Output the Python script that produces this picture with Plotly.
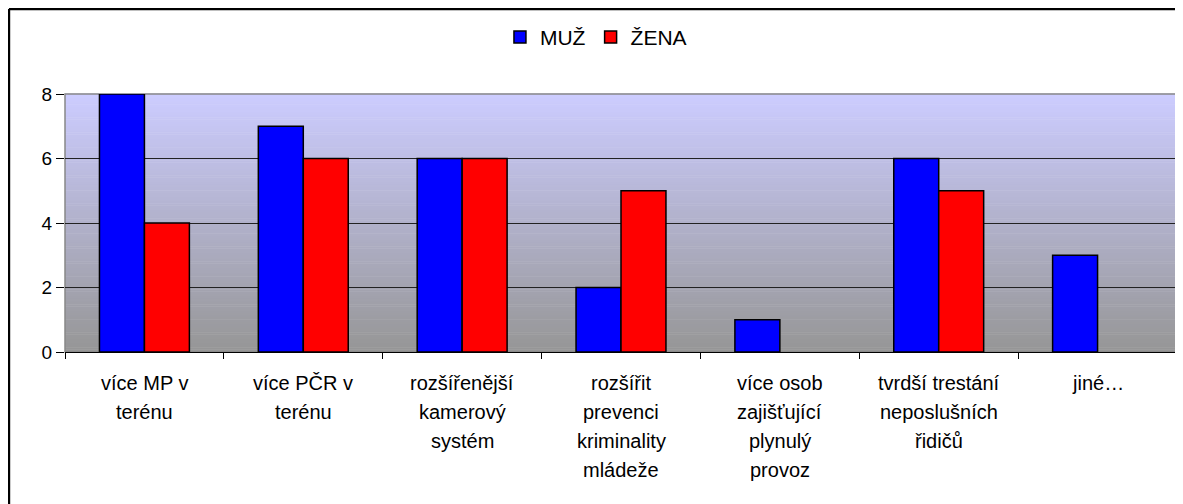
import plotly.graph_objects as go

categories = ["více MP v terénu", "více PČR v terénu", "rozšířenější kamerový systém",
              "rozšířit prevenci kriminality mládeže", "více osob zajišťující plynulý provoz",
              "tvrdší trestání neposlušních řidičů", "jiné…"]
label_lines = [["více MP v", "terénu"],
               ["více PČR v", "terénu"],
               ["rozšířenější", "kamerový", "systém"],
               ["rozšířit", "prevenci", "kriminality", "mládeže"],
               ["více osob", "zajišťující", "plynulý", "provoz"],
               ["tvrdší trestání", "neposlušních", "řidičů"],
               ["jiné…"]]
muz = [8, 7, 6, 2, 1, 6, 3]
zena = [4, 6, 6, 5, None, 5, None]
y_ticks = [0, 2, 4, 6, 8]

FONT = "Liberation Sans, Arial, sans-serif"

fig = go.Figure()
fig.add_trace(go.Bar(name="MUŽ", x=categories, y=muz, marker=dict(color="#0000FF", line=dict(color="black", width=1.5))))
fig.add_trace(go.Bar(name="ŽENA", x=categories, y=zena, marker=dict(color="#FF0000", line=dict(color="black", width=1.5))))

# gradient background bands (below gridlines)
shapes = []
n = 120
top = (204, 204, 255)
bot = (150, 150, 150)
for i in range(n):
    t = i / (n - 1)
    c = tuple(round(bot[k] + (top[k] - bot[k]) * t) for k in range(3))
    shapes.append(dict(type="rect", xref="x domain", yref="y domain", x0=0, x1=1,
                       y0=i / n, y1=(i + 1) / n + 0.002, fillcolor="rgb(%d,%d,%d)" % c,
                       line=dict(width=0), layer="below"))
# plot area border
shapes.append(dict(type="rect", xref="x domain", yref="y domain", x0=0, x1=1, y0=0, y1=1,
                   line=dict(color="#888888", width=1.5), fillcolor="rgba(0,0,0,0)", layer="below"))
# outer chart border: only left and top edges are visible on the page
shapes.append(dict(type="line", xref="paper", yref="paper", x0=-0.0504, x1=-0.0504, y0=-0.7, y1=1.329,
                   line=dict(color="black", width=2.5), layer="above"))
shapes.append(dict(type="line", xref="paper", yref="paper", x0=-0.0504, x1=1.04, y0=1.329, y1=1.329,
                   line=dict(color="black", width=2.5), layer="above"))

annotations = []
for cat, lines in zip(categories, label_lines):
    for j, ln in enumerate(lines):
        annotations.append(dict(x=cat, y=0, xref="x", yref="y", text=ln, showarrow=False,
                                yanchor="middle", yshift=-(31 + 29 * j),
                                font=dict(family=FONT, size=20, color="black")))

fig.update_layout(
    width=1183, height=504,
    margin=dict(l=57, r=14, t=86, b=160),
    paper_bgcolor="white", plot_bgcolor="rgba(0,0,0,0)",
    barmode="group", bargap=0.434, bargroupgap=0,
    shapes=shapes, annotations=annotations,
    font=dict(family=FONT, size=19, color="black"),
    legend=dict(orientation="h", xref="container", x=0.497, xanchor="center",
                yref="container", y=0.942, yanchor="middle",
                font=dict(family=FONT, size=21, color="black"),
                itemwidth=30, tracegroupgap=0, bgcolor="rgba(0,0,0,0)"),
    showlegend=True,
)
fig.update_xaxes(showticklabels=False, ticks="outside", tickson="boundaries", ticklen=6,
                 tickcolor="black", showline=True, linecolor="black", linewidth=1,
                 showgrid=False)
fig.update_yaxes(range=[0, 8], tickvals=y_ticks, ticks="outside", ticklen=8, tickcolor="black",
                 showgrid=True, gridcolor="#222222", gridwidth=1, zeroline=False,
                 showline=False, tickfont=dict(family=FONT, size=19, color="black"))

fig.write_html("out.html")
